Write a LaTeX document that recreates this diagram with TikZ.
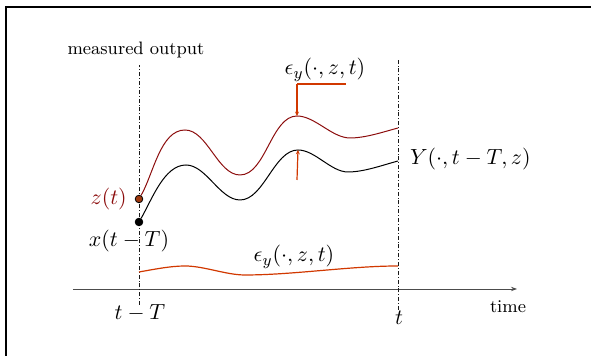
\documentclass[tikz,border=0pt]{standalone}
\usepackage{amssymb}
\usetikzlibrary{arrows.meta,positioning,calc}

\definecolor{outred}{rgb}{0.55,0.05,0.05}
\definecolor{errred}{rgb}{0.82,0.22,0.0}
\definecolor{dotbrown}{rgb}{0.62,0.22,0.05}

\begin{document}
\begin{tikzpicture}[x=0.5pt, y=0.5pt,
  tline/.style={draw=black, dash pattern=on 2pt off 1pt on 0.4pt off 1pt, line width=0.35pt, gray!20!black},
  crv/.style={line width=0.5pt, looseness=0.8},
  err/.style={errred, line width=0.6pt, looseness=0.8},
  erra/.style={errred, line width=0.6pt, -{Stealth[length=2.2pt,width=2pt]}},
  pt/.style={circle, draw=black, inner sep=0pt, minimum size=3.8pt},
  lbl/.style={font=\small},
  mlbl/.style={font=\fontsize{10.8}{13}\selectfont},
]
\useasboundingbox (0,0) rectangle (591,356);

%==== Rahmen ====
\coordinate (fr1) at (6,0);
\coordinate (fr2) at (6,349);
\coordinate (fr3) at (591,349);
\draw[line width=0.6pt] (fr1) -- (fr2) -- (fr3);

%==== Zeitachse ====
\coordinate (ax0) at (73,67);
\coordinate (ax1) at (517,67);
\draw[gray!60!black, line width=0.4pt, -{Stealth[length=3pt,width=2.2pt]}] (ax0) -- (ax1);
\node[lbl] (time) at (508,49) {time};

%==== Markierungen t-T und t ====
\coordinate (m1a) at (139,51);
\coordinate (m1b) at (139,291);
\coordinate (m2a) at (398,46);
\coordinate (m2b) at (398,296);
\draw[tline] (m1a) -- (m1b);
\draw[tline] (m2a) -- (m2b);
\node[lbl] (meas) at (136,306) {measured output};
\node[mlbl] (tT) at (140,43) {$t-T$};
\node[mlbl] (tt) at (399,38) {$t$};

%==== Trajektorie Y(.,t-T,z) ====
\node[pt, fill=black] (x0) at (139,134) {};
\coordinate (b1) at (186,191);
\coordinate (b2) at (240,156);
\coordinate (b3) at (298,206);
\coordinate (b4) at (348,184);
\coordinate (b5) at (398,195);
\draw[crv] (x0) to[out=60,in=180] (b1) to[out=0,in=180] (b2)
  to[out=0,in=180] (b3) to[out=0,in=180] (b4) to[out=0,in=195] (b5);
\node[mlbl, anchor=west] (Ylbl) at (403,197) {$Y(\cdot,t-T,z)$};
\node[mlbl] (xlbl) at (129,115) {$x(t-T)$};

%==== gemessener Ausgang z(t) ====
\node[pt, fill=dotbrown] (z0) at (139,157) {};
\coordinate (r1) at (185,226);
\coordinate (r2) at (240,181);
\coordinate (r3) at (297,240);
\coordinate (r4) at (350,218);
\coordinate (r5) at (398,228);
\draw[crv, outred] (z0) to[out=60,in=180] (r1) to[out=0,in=180] (r2)
  to[out=0,in=180] (r3) to[out=0,in=180] (r4) to[out=0,in=195] (r5);
\node[mlbl, outred, left=0.5pt of z0] (zlbl) {$z(t)$};

%==== Fehler epsilon_y ====
\coordinate (e0) at (346,272);
\coordinate (e1) at (297,272);
\coordinate (e2) at (297,176);
\draw[err] (e0) -- (e1);
\draw[erra] (e1) -- (r3);
\draw[erra] (e2) -- (b3);
\node[mlbl] (elbl) at (325,286) {$\epsilon_y(\cdot,z,t)$};

%==== Fehlerverlauf ====
\coordinate (f0) at (139,84);
\coordinate (f1) at (185,90);
\coordinate (f2) at (245,81);
\coordinate (f3) at (398,90);
\draw[err] (f0) to[out=10,in=180] (f1) to[out=0,in=180] (f2) to[out=0,in=180] (f3);
\node[mlbl] (flbl) at (294,99) {$\epsilon_y(\cdot,z,t)$};

\end{tikzpicture}
\end{document}
